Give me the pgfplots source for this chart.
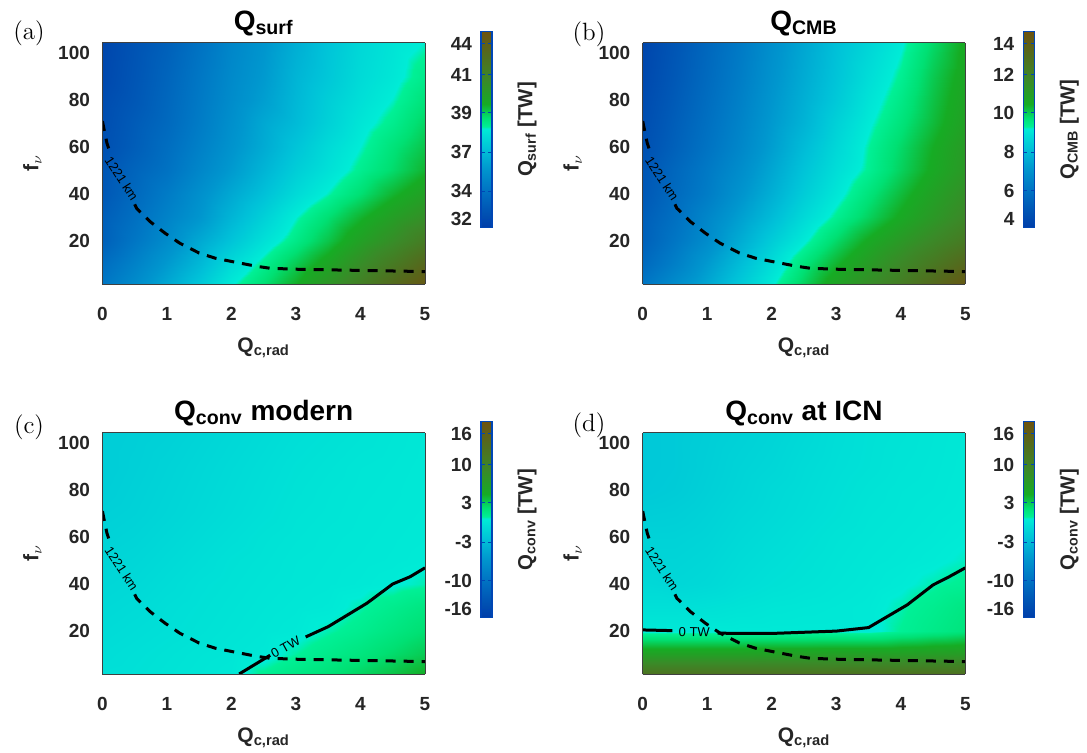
\documentclass[border=0pt]{standalone}
\usepackage{fontspec}
\newfontfamily\lsans{Liberation Sans}
\usepackage{pgfplots}
\pgfplotsset{compat=1.18}

\newcommand{\tickfont}{\lsans\bfseries\fontsize{9.5}{11}\selectfont}
\newcommand{\labfont}{\lsans\bfseries\fontsize{10.5}{12}\selectfont}
\newcommand{\cblabfont}{\lsans\bfseries\fontsize{10.2}{12}\selectfont}
\newcommand{\titfont}{\lsans\bfseries\fontsize{14}{16}\selectfont}
\newcommand{\annfont}{\lsans\fontsize{6.5}{7.5}\selectfont}

\definecolor{cbframe}{RGB}{0,70,180}

\pgfplotsset{
  colormap={qmap}{
    rgb255(0pt)=(0,62,168);
    rgb255(100pt)=(0,88,182);
    rgb255(200pt)=(0,118,196);
    rgb255(300pt)=(0,150,206);
    rgb255(400pt)=(0,192,216);
    rgb255(505pt)=(0,236,214);
    rgb255(515pt)=(0,240,150);
    rgb255(560pt)=(0,224,115);
    rgb255(630pt)=(22,172,36);
    rgb255(750pt)=(58,138,40);
    rgb255(880pt)=(82,108,30);
    rgb255(1000pt)=(108,82,16)
  },
  panel/.style={
    scale only axis, width=161.3pt, height=120.7pt,
    view={0}{90}, axis on top,
    xmin=0, xmax=5, ymin=1.5, ymax=104.5,
    xtick={0,1,2,3,4,5}, ytick={20,40,60,80,100}, ztick=\empty,
    colormap name=qmap, colorbar,
    major tick length=0pt, tick style={draw=none},
    axis line style={black!75, line width=0.4pt},
    ticklabel style={font=\tickfont, text=black!85},
    /pgf/number format/assume math mode=true,
    xticklabel style={yshift=-8pt},
    yticklabel style={xshift=-2.7pt},
    xlabel={Q\textsubscript{c,rad}}, ylabel={f$_\nu$},
    xlabel style={at={(axis description cs:0.5,0)}, anchor=center, yshift=-32pt, font=\labfont, text=black!85},
    ylabel style={at={(axis description cs:0,0.5)}, anchor=center, yshift=35pt, font=\labfont, text=black!85},
    title style={at={(axis description cs:0.5,1)}, anchor=south, yshift=-6pt, font=\titfont},
  },
  cbbase/.style={
    scale only axis, width=5.5pt, height=98pt,
    at={(parent axis.north east)}, anchor=north west, yshift=5.5pt,
    yticklabel pos=left, ytick pos=both, ytick align=inside,
    major tick length=1.8pt,
    tick style={draw=cbframe, line width=0.5pt},
    axis line style={draw=cbframe, line width=0.8pt},
    yticklabel style={font=\tickfont, text=black!85, xshift=-1pt},
    ylabel style={at={(axis description cs:1,0.5)}, anchor=center, yshift=-17.5pt, font=\cblabfont, text=black!85},
  },
  dline/.style={black, line width=1.5pt, dash pattern=on 5pt off 4pt},
  sline/.style={black, line width=1.5pt},
}

\begin{document}
\begin{tikzpicture}
\useasboundingbox (0,0) rectangle (543.5pt,376.5pt);

% (a) Q_surf
\begin{axis}[panel, at={(51.2pt,234.5pt)}, anchor=south west,
  title={Q\textsubscript{surf}},
  point meta min=31.4, point meta max=44.8,
  colorbar style={cbbase, xshift=19.5pt,
    ytick={31.98,33.9,36.56,39.24,41.85,43.96},
    yticklabels={32,34,37,39,41,44},
    ylabel={Q\textsubscript{surf} [TW]}}]
\addplot3[surf, shader=interp, mesh/rows=11, mesh/cols=11] coordinates {
(0,1.5,34.1) (0.5,1.5,35.0) (1,1.5,36.0) (1.5,1.5,37.0) (2,1.5,38.1) (2.5,1.5,38.9) (3,1.5,39.8) (3.5,1.5,40.9) (4,1.5,42.1) (4.5,1.5,43.3) (5,1.5,44.4)
(0,10,33.7) (0.5,10,34.6) (1,10,35.55) (1.5,10,36.5) (2,10,37.6) (2.5,10,38.44) (3,10,39.3) (3.5,10,40.2) (4,10,41.3) (4.5,10,42.4) (5,10,43.5)
(0,20,33.1) (0.5,20,34.1) (1,20,35.0) (1.5,20,36.0) (2,20,36.9) (2.5,20,37.8) (3,20,38.57) (3.5,20,39.4) (4,20,40.4) (4.5,20,41.3) (5,20,42.3)
(0,30,33.0) (0.5,30,33.8) (1,30,34.6) (1.5,30,35.4) (2,30,36.4) (2.5,30,37.3) (3,30,38.17) (3.5,30,38.9) (4,30,39.7) (4.5,30,40.5) (5,30,41.2)
(0,40,32.7) (0.5,40,33.5) (1,40,34.3) (1.5,40,35.15) (2,40,36.0) (2.5,40,36.8) (3,40,37.6) (3.5,40,38.23) (4,40,38.9) (4.5,40,39.7) (5,40,40.4)
(0,50,32.6) (0.5,50,33.3) (1,50,33.9) (1.5,50,34.75) (2,50,35.55) (2.5,50,36.4) (3,50,37.2) (3.5,50,37.8) (4,50,38.4) (4.5,50,39.0) (5,50,39.7)
(0,60,32.3) (0.5,60,33.0) (1,60,33.7) (1.5,60,34.5) (2,60,35.3) (2.5,60,36.1) (3,60,36.9) (3.5,60,37.6) (4,60,38.17) (4.5,60,38.8) (5,60,39.4)
(0,70,32.2) (0.5,70,32.9) (1,70,33.5) (1.5,70,34.3) (2,70,35.15) (2.5,70,36.0) (3,70,36.6) (3.5,70,37.3) (4,70,37.95) (4.5,70,38.45) (5,70,39.1)
(0,80,32.1) (0.5,80,32.7) (1,80,33.4) (1.5,80,34.2) (2,80,35.0) (2.5,80,35.7) (3,80,36.5) (3.5,80,37.2) (4,80,37.75) (4.5,80,38.2) (5,80,38.8)
(0,90,31.9) (0.5,90,32.6) (1,90,33.3) (1.5,90,34.1) (2,90,34.9) (2.5,90,35.55) (3,90,36.4) (3.5,90,37.0) (4,90,37.6) (4.5,90,38.0) (5,90,38.5)
(0,104.5,31.8) (0.5,104.5,32.5) (1,104.5,33.1) (1.5,104.5,33.9) (2,104.5,34.75) (2.5,104.5,35.4) (3,104.5,36.2) (3.5,104.5,36.9) (4,104.5,37.5) (4.5,104.5,37.9) (5,104.5,38.2)
};
\addplot3[dline] coordinates {(0,71,0) (0.07,61.6,0) (0.12,57.5,0)};
\addplot3[dline] coordinates {(0.5,35.5,0) (0.53,33.8,0) (0.74,28.1,0) (0.97,23.2,0) (1.2,18.9,0) (1.5,14.7,0) (1.75,12.5,0) (2.06,10.8,0) (2.38,9.1,0) (2.6,8.2,0) (3,7.8,0) (3.78,7.4,0) (5,6.8,0)};
\node[font=\annfont, rotate=-57] at (axis cs:0.3,46.5,0) {1221 km};
\end{axis}

% (b) Q_CMB
\begin{axis}[panel, at={(321.35pt,234.5pt)}, anchor=south west,
  title={Q\textsubscript{CMB}},
  point meta min=3.4, point meta max=14.7,
  colorbar style={cbbase, xshift=20.5pt,
    ytick={3.89,5.51,7.75,10.01,12.21,13.99},
    yticklabels={4,6,8,10,12,14},
    ylabel={Q\textsubscript{CMB} [TW]}}]
\addplot3[surf, shader=interp, mesh/rows=11, mesh/cols=11] coordinates {
(0,1.5,5.66) (0.5,1.5,6.45) (1,1.5,7.24) (1.5,1.5,8.15) (2,1.5,9.05) (2.5,1.5,9.95) (3,1.5,10.86) (3.5,1.5,11.76) (4,1.5,12.55) (4.5,1.5,13.46) (5,1.5,14.36)
(0,10,5.21) (0.5,10,6.0) (1,10,6.9) (1.5,10,7.81) (2,10,8.71) (2.5,10,9.62) (3,10,10.41) (3.5,10,11.2) (4,10,11.99) (4.5,10,12.78) (5,10,13.57)
(0,20,4.87) (0.5,20,5.66) (1,20,6.45) (1.5,20,7.36) (2,20,8.26) (2.5,20,9.05) (3,20,9.84) (3.5,20,10.63) (4,20,11.31) (4.5,20,11.99) (5,20,12.67)
(0,30,4.76) (0.5,30,5.43) (1,30,6.23) (1.5,30,7.02) (2,30,7.81) (2.5,30,8.6) (3,30,9.28) (3.5,30,9.95) (4,30,10.63) (4.5,30,11.31) (5,30,11.99)
(0,40,4.53) (0.5,40,5.21) (1,40,5.89) (1.5,40,6.68) (2,40,7.47) (2.5,40,8.26) (3,40,8.94) (3.5,40,9.62) (4,40,10.29) (4.5,40,10.97) (5,40,11.65)
(0,50,4.42) (0.5,50,5.1) (1,50,5.77) (1.5,50,6.45) (2,50,7.24) (2.5,50,8.03) (3,50,8.71) (3.5,50,9.28) (4,50,9.95) (4.5,50,10.63) (5,50,11.31)
(0,60,4.19) (0.5,60,4.87) (1,60,5.55) (1.5,60,6.23) (2,60,7.02) (2.5,60,7.81) (3,60,8.54) (3.5,60,9.22) (4,60,9.84) (4.5,60,10.52) (5,60,11.2)
(0,70,4.08) (0.5,70,4.76) (1,70,5.43) (1.5,70,6.11) (2,70,6.9) (2.5,70,7.58) (3,70,8.37) (3.5,70,9.05) (4,70,9.62) (4.5,70,10.29) (5,70,10.97)
(0,80,3.97) (0.5,80,4.64) (1,80,5.32) (1.5,80,6.0) (2,80,6.79) (2.5,80,7.47) (3,80,8.15) (3.5,80,8.88) (4,80,9.45) (4.5,80,10.18) (5,80,10.86)
(0,90,3.85) (0.5,90,4.53) (1,90,5.21) (1.5,90,5.89) (2,90,6.68) (2.5,90,7.36) (3,90,8.03) (3.5,90,8.71) (4,90,9.28) (4.5,90,10.07) (5,90,10.75)
(0,104.5,3.74) (0.5,104.5,4.42) (1,104.5,5.1) (1.5,104.5,5.77) (2,104.5,6.56) (2.5,104.5,7.24) (3,104.5,7.92) (3.5,104.5,8.49) (4,104.5,9.05) (4.5,104.5,9.84) (5,104.5,10.63)
};
\addplot3[dline] coordinates {(0,71,0) (0.07,61.6,0) (0.12,57.5,0)};
\addplot3[dline] coordinates {(0.5,35.5,0) (0.53,33.8,0) (0.74,28.1,0) (0.97,23.2,0) (1.2,18.9,0) (1.5,14.7,0) (1.75,12.5,0) (2.06,10.8,0) (2.38,9.1,0) (2.6,8.2,0) (3,7.8,0) (3.78,7.4,0) (5,6.8,0)};
\node[font=\annfont, rotate=-57] at (axis cs:0.3,46.5,0) {1221 km};
\end{axis}

% (c) Q_conv modern
\begin{axis}[panel, at={(51.2pt,39.5pt)}, anchor=south west,
  title={Q\textsubscript{conv} modern},
  point meta min=-18.7, point meta max=18.7,
  colorbar style={cbbase, xshift=19.5pt,
    ytick={-17.09,-11.71,-4.30,3.18,10.47,16.34},
    yticklabels={-16,-10,-3,3,10,16},
    ylabel={Q\textsubscript{conv} [TW]}}]
\addplot3[surf, shader=interp, mesh/rows=11, mesh/cols=11] coordinates {
(0,1.5,-0.9) (0.5,1.5,-0.8) (1,1.5,-0.6) (1.5,1.5,-0.4) (2,1.5,-0.2) (2.5,1.5,0.7) (3,1.5,1.4) (3.5,1.5,2.0) (4,1.5,2.8) (4.5,1.5,3.7) (5,1.5,4.8)
(0,10,-1.1) (0.5,10,-0.9) (1,10,-0.7) (1.5,10,-0.5) (2,10,-0.35) (2.5,10,-0.15) (3,10,0.5) (3.5,10,1.1) (4,10,1.7) (4.5,10,2.5) (5,10,3.3)
(0,20,-1.3) (0.5,20,-1.1) (1,20,-0.9) (1.5,20,-0.7) (2,20,-0.5) (2.5,20,-0.3) (3,20,-0.1) (3.5,20,0.4) (4,20,0.9) (4.5,20,1.6) (5,20,2.3)
(0,30,-1.5) (0.5,30,-1.3) (1,30,-1.0) (1.5,30,-0.8) (2,30,-0.6) (2.5,30,-0.4) (3,30,-0.25) (3.5,30,-0.1) (4,30,0.4) (4.5,30,1.0) (5,30,1.6)
(0,40,-1.7) (0.5,40,-1.5) (1,40,-1.2) (1.5,40,-0.9) (2,40,-0.7) (2.5,40,-0.5) (3,40,-0.35) (3.5,40,-0.25) (4,40,-0.1) (4.5,40,0.1) (5,40,0.4)
(0,50,-1.9) (0.5,50,-1.7) (1,50,-1.4) (1.5,50,-1.1) (2,50,-0.8) (2.5,50,-0.6) (3,50,-0.4) (3.5,50,-0.3) (4,50,-0.2) (4.5,50,-0.1) (5,50,0.05)
(0,60,-2.1) (0.5,60,-1.9) (1,60,-1.6) (1.5,60,-1.3) (2,60,-1.0) (2.5,60,-0.7) (3,60,-0.5) (3.5,60,-0.35) (4,60,-0.25) (4.5,60,-0.15) (5,60,-0.05)
(0,70,-2.3) (0.5,70,-2.1) (1,70,-1.8) (1.5,70,-1.5) (2,70,-1.2) (2.5,70,-0.9) (3,70,-0.6) (3.5,70,-0.45) (4,70,-0.3) (4.5,70,-0.2) (5,70,-0.1)
(0,80,-2.5) (0.5,80,-2.2) (1,80,-1.9) (1.5,80,-1.6) (2,80,-1.3) (2.5,80,-1.0) (3,80,-0.7) (3.5,80,-0.5) (4,80,-0.35) (4.5,80,-0.25) (5,80,-0.1)
(0,90,-2.6) (0.5,90,-2.3) (1,90,-2.0) (1.5,90,-1.7) (2,90,-1.4) (2.5,90,-1.1) (3,90,-0.8) (3.5,90,-0.6) (4,90,-0.4) (4.5,90,-0.3) (5,90,-0.15)
(0,104.5,-2.6) (0.5,104.5,-2.4) (1,104.5,-2.2) (1.5,104.5,-1.9) (2,104.5,-1.6) (2.5,104.5,-1.3) (3,104.5,-1.0) (3.5,104.5,-0.8) (4,104.5,-0.6) (4.5,104.5,-0.4) (5,104.5,-0.2)
};
\addplot3[dline] coordinates {(0,71,0) (0.07,61.6,0) (0.12,57.5,0)};
\addplot3[dline] coordinates {(0.5,35.5,0) (0.53,33.8,0) (0.74,28.1,0) (0.97,23.2,0) (1.2,18.9,0) (1.5,14.7,0) (1.75,12.5,0) (2.06,10.8,0) (2.38,9.1,0) (2.6,8.2,0) (3,7.8,0) (3.78,7.4,0) (5,6.8,0)};
\addplot3[sline] coordinates {(2.12,1.5,0) (2.6,9.5,0)};
\addplot3[sline] coordinates {(3.15,17.3,0) (3.5,21.7,0) (4.1,31.7,0) (4.5,39.9,0) (4.77,43,0) (5,46.8,0)};
\node[font=\annfont, rotate=-57] at (axis cs:0.3,46.5,0) {1221 km};
\node[font=\annfont, rotate=29] at (axis cs:2.84,12.9,0) {0 TW};
\end{axis}

% (d) Q_conv at ICN
\begin{axis}[panel, at={(321.35pt,39.5pt)}, anchor=south west,
  title={Q\textsubscript{conv} at ICN},
  point meta min=-18.7, point meta max=18.7,
  colorbar style={cbbase, xshift=20.5pt,
    ytick={-17.09,-11.71,-4.30,3.18,10.47,16.34},
    yticklabels={-16,-10,-3,3,10,16},
    ylabel={Q\textsubscript{conv} [TW]}}]
\addplot3[surf, shader=interp, mesh/rows=11, mesh/cols=11] coordinates {
(0,1.5,13.1) (0.5,1.5,13.1) (1,1.5,13.1) (1.5,1.5,13.1) (2,1.5,13.1) (2.5,1.5,13.1) (3,1.5,13.2) (3.5,1.5,13.2) (4,1.5,13.3) (4.5,1.5,13.4) (5,1.5,13.5)
(0,10,6.4) (0.5,10,6.4) (1,10,6.4) (1.5,10,6.4) (2,10,6.5) (2.5,10,6.5) (3,10,6.6) (3.5,10,6.6) (4,10,6.7) (4.5,10,6.9) (5,10,7.1)
(0,20,-0.1) (0.5,20,-0.1) (1,20,-0.05) (1.5,20,-0.05) (2,20,-0.05) (2.5,20,-0.05) (3,20,-0.05) (3.5,20,-0.05) (4,20,0.6) (4.5,20,1.2) (5,20,1.8)
(0,30,-0.9) (0.5,30,-0.9) (1,30,-0.8) (1.5,30,-0.6) (2,30,-0.4) (2.5,30,-0.3) (3,30,-0.2) (3.5,30,-0.05) (4,30,0.4) (4.5,30,0.9) (5,30,1.5)
(0,40,-1.5) (0.5,40,-1.7) (1,40,-1.5) (1.5,40,-1.1) (2,40,-0.8) (2.5,40,-0.6) (3,40,-0.4) (3.5,40,-0.2) (4,40,0.05) (4.5,40,0.4) (5,40,0.7)
(0,50,-1.9) (0.5,50,-1.9) (1,50,-1.7) (1.5,50,-1.3) (2,50,-1.0) (2.5,50,-0.75) (3,50,-0.5) (3.5,50,-0.3) (4,50,-0.15) (4.5,50,0.05) (5,50,0.3)
(0,60,-2.1) (0.5,60,-2.1) (1,60,-1.9) (1.5,60,-1.5) (2,60,-1.2) (2.5,60,-0.9) (3,60,-0.6) (3.5,60,-0.4) (4,60,-0.25) (4.5,60,-0.1) (5,60,0.1)
(0,70,-2.5) (0.5,70,-2.4) (1,70,-2.1) (1.5,70,-1.7) (2,70,-1.4) (2.5,70,-1.1) (3,70,-0.8) (3.5,70,-0.5) (4,70,-0.35) (4.5,70,-0.2) (5,70,-0.05)
(0,80,-2.9) (0.5,80,-2.7) (1,80,-2.3) (1.5,80,-1.9) (2,80,-1.5) (2.5,80,-1.2) (3,80,-0.9) (3.5,80,-0.6) (4,80,-0.4) (4.5,80,-0.3) (5,80,-0.1)
(0,90,-3.0) (0.5,90,-2.8) (1,90,-2.4) (1.5,90,-2.0) (2,90,-1.7) (2.5,90,-1.3) (3,90,-1.0) (3.5,90,-0.75) (4,90,-0.5) (4.5,90,-0.35) (5,90,-0.15)
(0,104.5,-3.0) (0.5,104.5,-2.8) (1,104.5,-2.5) (1.5,104.5,-2.2) (2,104.5,-1.9) (2.5,104.5,-1.5) (3,104.5,-1.1) (3.5,104.5,-0.8) (4,104.5,-0.6) (4.5,104.5,-0.4) (5,104.5,-0.2)
};
\addplot3[dline] coordinates {(0,71,0) (0.07,61.6,0) (0.12,57.5,0)};
\addplot3[dline] coordinates {(0.5,35.5,0) (0.53,33.8,0) (0.74,28.1,0) (0.97,23.2,0) (1.2,18.9,0) (1.5,14.7,0) (1.75,12.5,0) (2.06,10.8,0) (2.38,9.1,0) (2.6,8.2,0) (3,7.8,0) (3.78,7.4,0) (5,6.8,0)};
\addplot3[sline] coordinates {(0,20.3,0) (0.46,20,0)};
\addplot3[sline] coordinates {(1.16,18.9,0) (2,18.8,0) (3,19.8,0) (3.5,21.3,0) (4.1,31,0) (4.5,39.5,0) (4.75,43,0) (5,46.8,0)};
\node[font=\annfont, rotate=-57] at (axis cs:0.3,46.5,0) {1221 km};
\node[font=\annfont, rotate=-1] at (axis cs:0.8,19.3,0) {0 TW};
\end{axis}

\node[font=\fontsize{12.5}{14}\selectfont] at (14.5pt,360pt) {(a)};
\node[font=\fontsize{12.5}{14}\selectfont] at (294.5pt,359.5pt) {(b)};
\node[font=\fontsize{12.5}{14}\selectfont] at (14.5pt,163pt) {(c)};
\node[font=\fontsize{12.5}{14}\selectfont] at (294.5pt,164pt) {(d)};
\end{tikzpicture}
\end{document}
